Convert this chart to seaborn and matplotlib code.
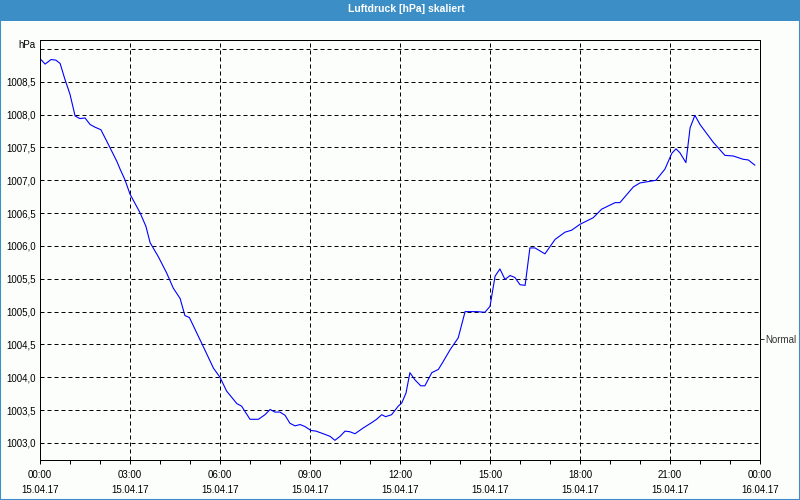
import matplotlib
matplotlib.use("Agg")
import numpy as np
import pandas as pd
import seaborn as sns
import matplotlib.pyplot as plt
from matplotlib.patches import Rectangle

# ---- data (hours since 15.04.17 00:00, pressure in hPa) ----
hours = [0.03, 0.17, 0.37, 0.53, 0.67, 0.83, 1.0, 1.17, 1.33, 1.5, 1.67, 1.83, 2.03, 2.22,
         2.56, 2.67, 2.83, 3.0, 3.33, 3.53, 3.67, 3.94, 4.22, 4.44, 4.67, 4.83, 4.98, 5.22,
         5.44, 5.78, 6.0, 6.22, 6.56, 6.72, 7.0, 7.28, 7.5, 7.67, 7.83, 8.0, 8.17, 8.33, 8.5,
         8.67, 8.83, 9.03, 9.2, 9.5, 9.67, 9.83, 10.0, 10.17, 10.33, 10.5, 10.78, 11.06,
         11.22, 11.39, 11.52, 11.72, 11.94, 12.06, 12.2, 12.33, 12.5, 12.69, 12.83, 13.06,
         13.28, 13.44, 13.67, 13.94, 14.17, 14.56, 14.83, 15.0, 15.17, 15.33, 15.5, 15.67,
         15.83, 16.0, 16.17, 16.33, 16.5, 16.83, 17.17, 17.5, 17.72, 18.0, 18.44, 18.72,
         19.17, 19.33, 19.78, 20.0, 20.53, 20.83, 21.06, 21.2, 21.33, 21.53, 21.67, 21.83,
         22.0, 22.44, 22.83, 23.11, 23.44, 23.61, 23.83]
pressure = [1008.84, 1008.77, 1008.84, 1008.83, 1008.78, 1008.54, 1008.31, 1007.98, 1007.94,
            1007.95, 1007.85, 1007.81, 1007.77, 1007.60, 1007.29, 1007.17, 1007.01, 1006.79,
            1006.51, 1006.30, 1006.05, 1005.84, 1005.59, 1005.36, 1005.20, 1004.94, 1004.91,
            1004.68, 1004.47, 1004.14, 1004.00, 1003.79, 1003.60, 1003.56, 1003.36, 1003.36,
            1003.43, 1003.51, 1003.47, 1003.47, 1003.42, 1003.30, 1003.26, 1003.28, 1003.25,
            1003.19, 1003.18, 1003.13, 1003.10, 1003.04, 1003.10, 1003.18, 1003.17, 1003.14,
            1003.23, 1003.31, 1003.36, 1003.43, 1003.40, 1003.43, 1003.56, 1003.61, 1003.76,
            1004.07, 1003.96, 1003.87, 1003.87, 1004.07, 1004.12, 1004.24, 1004.42, 1004.60,
            1005.00, 1005.00, 1004.99, 1005.08, 1005.54, 1005.65, 1005.49, 1005.55, 1005.52,
            1005.41, 1005.40, 1005.97, 1005.97, 1005.88, 1006.10, 1006.21, 1006.24, 1006.33,
            1006.43, 1006.56, 1006.66, 1006.66, 1006.90, 1006.96, 1007.00, 1007.17, 1007.41,
            1007.48, 1007.42, 1007.27, 1007.80, 1007.99, 1007.85, 1007.58, 1007.38, 1007.37,
            1007.32, 1007.31, 1007.23]
tick_hours = [0, 3, 6, 9, 12, 15, 18, 21, 24]
tick_times = ["00:00", "03:00", "06:00", "09:00", "12:00", "15:00", "18:00", "21:00", "00:00"]
tick_dates = ["15.04.17"] * 8 + ["16.04.17"]
y_ticks = [1003.0, 1003.5, 1004.0, 1004.5, 1005.0, 1005.5, 1006.0, 1006.5,
           1007.0, 1007.5, 1008.0, 1008.5, 1009.0]
normal_level = 1004.59
title = "Luftdruck [hPa] skaliert"
unit = "hPa"

sns.set_theme(style="white")
plt.rcParams['font.family'] = ['Liberation Sans', 'DejaVu Sans']

bg = '#fcfefc'
blue_bar = '#3c8fc6'
fig = plt.figure(figsize=(8, 5), dpi=100, facecolor=bg)
ax = fig.add_axes([0.05, 0.08, 0.9, 0.84])
ax.set_facecolor(bg)

df = pd.DataFrame({'h': hours, 'p': pressure})
sns.lineplot(data=df, x='h', y='p', ax=ax, color='#0000ff', linewidth=0.8)

ax.set_xlim(0, 24)
ax.set_ylim(1002.74, 1009.137)
ax.set_xticks(tick_hours)
ax.set_xticklabels([f"{t}\n{d}" for t, d in zip(tick_times, tick_dates)],
                   linespacing=1.65)
ax.set_xticks(range(0, 25), minor=True)
ax.set_yticks(y_ticks)
ax.set_yticklabels([f"{v:.1f}".replace('.', ',') if v < 1009 else '' for v in y_ticks])
ax.set_xlabel('')
ax.set_ylabel('')

ax.grid(True, which='major', color='black', linestyle=(0, (4, 3)), linewidth=0.72)
ax.grid(False, which='minor')
ax.tick_params(axis='x', which='both', bottom=True, direction='out', length=3,
               width=0.72, colors='black', pad=4, labelsize=7)
ax.tick_params(axis='y', left=False, length=0, pad=3, labelsize=7, colors='black')
for s in ax.spines.values():
    s.set_color('black')
    s.set_linewidth(0.72)

ax.text(-0.0069, 0.988, unit, transform=ax.transAxes, ha='right', va='center',
        fontsize=7, color='black')

tw = ax.twinx()
tw.set_ylim(ax.get_ylim())
tw.set_yticks([normal_level])
tw.set_yticklabels(['Normal'])
tw.tick_params(axis='y', right=True, direction='out', length=3, width=0.72,
               pad=1, labelsize=7, colors='#333333')
tw.grid(False)
for s in tw.spines.values():
    s.set_visible(False)

# window chrome: title bar and thin blue border
fig.add_artist(Rectangle((0, 1 - 21 / 500), 1, 21 / 500, transform=fig.transFigure,
                         facecolor=blue_bar, edgecolor='none', zorder=0))
fig.add_artist(Rectangle((0, 0), 1, 1, transform=fig.transFigure, fill=False,
                         edgecolor=blue_bar, linewidth=1.5))
fig.text(0.5075, 0.982, title, color='white', fontsize=7.5, fontweight='bold',
         ha='center', va='center')

fig.savefig('out.png', dpi=100, facecolor=bg)
